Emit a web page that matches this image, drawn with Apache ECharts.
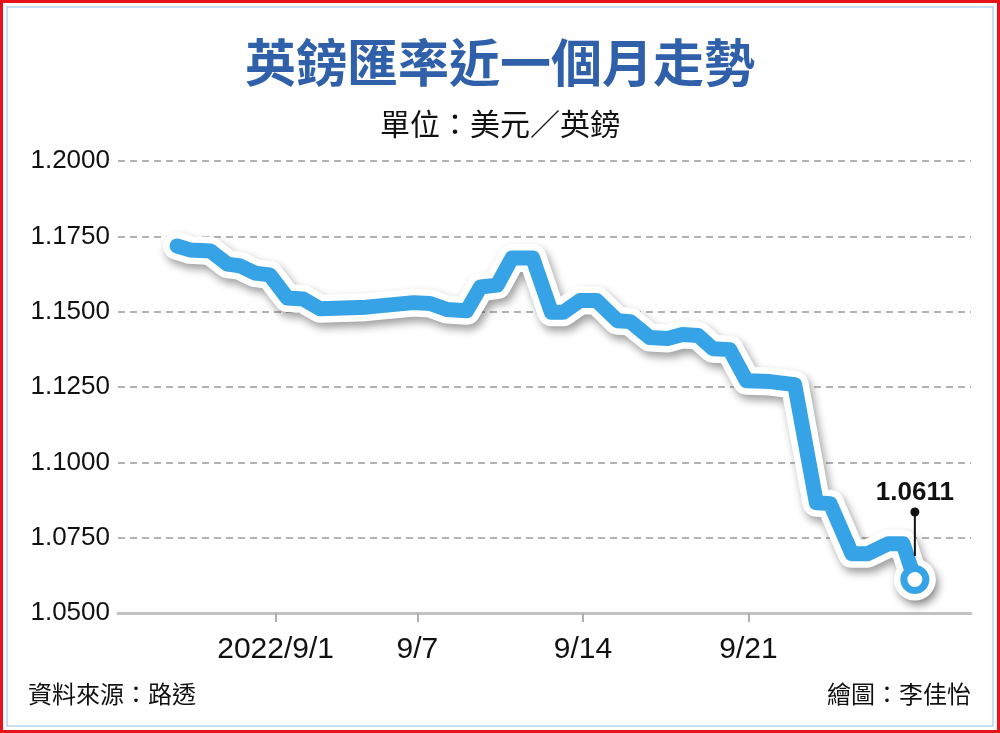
<!DOCTYPE html>
<html>
<head>
<meta charset="utf-8">
<script src="https://cdn.jsdelivr.net/npm/echarts@6/dist/echarts.min.js"></script>
<style>
html,body{margin:0;padding:0;background:#fff;}
#chart{width:1000px;height:733px;}
</style>
</head>
<body>
<div id="chart"></div>
<script>
// ---- data ----
const times = [
  '2022-08-27 20:00','2022-08-28 09:00','2022-08-29 06:00','2022-08-29 23:00','2022-08-30 12:00',
  '2022-08-31 03:00','2022-08-31 18:00','2022-09-01 12:00','2022-09-02 04:00','2022-09-02 21:00',
  '2022-09-04 20:00','2022-09-06 20:00','2022-09-07 13:00','2022-09-08 06:00','2022-09-09 02:00',
  '2022-09-09 16:00','2022-09-10 09:00','2022-09-11 00:00','2022-09-11 21:00','2022-09-12 16:00',
  '2022-09-13 04:00','2022-09-13 21:00','2022-09-14 14:00','2022-09-15 11:00','2022-09-16 00:00',
  '2022-09-16 20:00','2022-09-17 14:00','2022-09-18 05:00','2022-09-18 21:00','2022-09-19 12:00',
  '2022-09-20 05:00','2022-09-20 22:00','2022-09-21 22:00','2022-09-22 23:00','2022-09-23 21:00',
  '2022-09-24 11:00','2022-09-25 09:00','2022-09-26 01:00','2022-09-26 22:00','2022-09-27 13:00',
  '2022-09-28 01:00'
];
const rates = [
  1.1718,1.1705,1.1701,1.1658,1.1652,
  1.1628,1.1622,1.1545,1.1542,1.1510,
  1.1515,1.1530,1.1527,1.1507,1.1503,
  1.1582,1.1588,1.1678,1.1678,1.1498,
  1.1498,1.1537,1.1537,1.1470,1.1467,
  1.1414,1.1411,1.1424,1.1421,1.1377,
  1.1374,1.1271,1.1268,1.1258,1.0866,
  1.0863,1.0697,1.0697,1.0730,1.0730,
  1.0611
];
const xTickDates = ['2022-09-01 00:00','2022-09-07 00:00','2022-09-14 00:00','2022-09-21 00:00'];
const xTickLabels = ['2022/9/1','9/7','9/14','9/21'];
const xRange = ['2022-08-25 08:00','2022-09-30 10:00'];
const yMin = 1.05, yMax = 1.2, yStep = 0.025;
const titleText = '英鎊匯率近一個月走勢';
const unitText = '單位：美元／英鎊';
const sourceText = '資料來源：路透';
const creditText = '繪圖：李佳怡';

// ---- helpers ----
function ts(s){
  const [d,t] = s.split(' ');
  const [Y,M,D] = d.split('-').map(Number);
  const [h,m] = (t||'00:00').split(':').map(Number);
  return new Date(Y,M-1,D,h,m).getTime();
}
const tickTs = xTickDates.map(ts);
const last = rates.length - 1;
const BLUE = '#36a3e6';
const CJK = '"Noto Sans CJK TC","Noto Sans CJK SC",sans-serif';
const LAT = '"Liberation Sans",Arial,sans-serif';

const outlineData = times.map((t,i)=>[ts(t), rates[i]]);
const lineData = times.map((t,i)=>{
  if (i !== last) return [ts(t), rates[i]];
  return {
    value:[ts(t), rates[i]],
    label:{
      show:true, position:'top', distance:9,
      formatter: p => '{v|' + p.value[1].toFixed(4) + '}\n{d|}\n{l|}',
      rich:{
        v:{fontSize:26,fontWeight:'bold',color:'#111',fontFamily:LAT,lineHeight:30,align:'center'},
        d:{width:9,height:9,lineHeight:8,borderRadius:5,backgroundColor:'#111',align:'center'},
        l:{width:2,height:40,lineHeight:40,backgroundColor:'#111',align:'center'}
      }
    }
  };
});

const chart = echarts.init(document.getElementById('chart'), null, {renderer:'canvas'});
chart.setOption({
  animation:false,
  backgroundColor:'#ffffff',
  grid:{left:118,right:29,top:161,bottom:120,containLabel:false,outerBoundsMode:'none'},
  xAxis:{
    type:'value',
    min:ts(xRange[0]), max:ts(xRange[1]),
    axisLine:{show:true,lineStyle:{color:'#c2c2c2',width:3}},
    axisTick:{show:true,customValues:tickTs,length:9,lineStyle:{color:'#b0b0b0',width:2}},
    axisLabel:{
      show:true,customValues:tickTs,margin:22,fontSize:30,color:'#111',fontFamily:LAT,
      formatter:(v)=>{const k=tickTs.indexOf(v);return k>=0?xTickLabels[k]:'';}
    },
    splitLine:{show:false}
  },
  yAxis:{
    type:'value',min:yMin,max:yMax,interval:yStep,
    axisLine:{show:false},axisTick:{show:false},
    axisLabel:{margin:8,fontSize:26,color:'#111',fontFamily:LAT,formatter:v=>v.toFixed(4)},
    splitLine:{show:true,lineStyle:{color:'#9a9a9a',width:1.5,type:[7,5]}}
  },
  series:[
    {
      type:'line',data:outlineData,z:2,silent:true,
      symbol:(v,p)=>p.dataIndex===last?'circle':'none',
      symbolSize:42,showSymbol:true,
      itemStyle:{color:'#fff',shadowColor:'rgba(0,0,0,0.38)',shadowBlur:8,shadowOffsetX:3,shadowOffsetY:5},
      lineStyle:{color:'#fff',width:28,cap:'round',join:'round',
        shadowColor:'rgba(0,0,0,0.38)',shadowBlur:8,shadowOffsetX:3,shadowOffsetY:5}
    },
    {
      type:'line',data:lineData,z:3,silent:true,
      symbol:(v,p)=>p.dataIndex===last?'circle':'none',
      symbolSize:22,showSymbol:true,
      itemStyle:{color:'#fff',borderColor:BLUE,borderWidth:7},
      lineStyle:{color:BLUE,width:15,cap:'round',join:'round'}
    }
  ],
  graphic:[
    {type:'rect',silent:true,shape:{x:1.5,y:1.5,width:997,height:730},style:{fill:null,stroke:'#e8141b',lineWidth:3}},
    {type:'rect',silent:true,shape:{x:7,y:7,width:986,height:719},style:{fill:null,stroke:'#b7d3ee',lineWidth:1.5}},
    {type:'text',silent:true,x:500,y:63,style:{text:titleText,font:'bold 51px '+CJK,fill:'#3060aa',align:'center',verticalAlign:'middle'}},
    {type:'text',silent:true,x:500,y:124,style:{text:unitText,font:'30px '+CJK,fill:'#111',align:'center',verticalAlign:'middle'}},
    {type:'text',silent:true,x:28,y:694,style:{text:sourceText,font:'24px '+CJK,fill:'#111',align:'left',verticalAlign:'middle'}},
    {type:'text',silent:true,x:971,y:694,style:{text:creditText,font:'24px '+CJK,fill:'#111',align:'right',verticalAlign:'middle'}}
  ]
});
</script>
</body>
</html>
